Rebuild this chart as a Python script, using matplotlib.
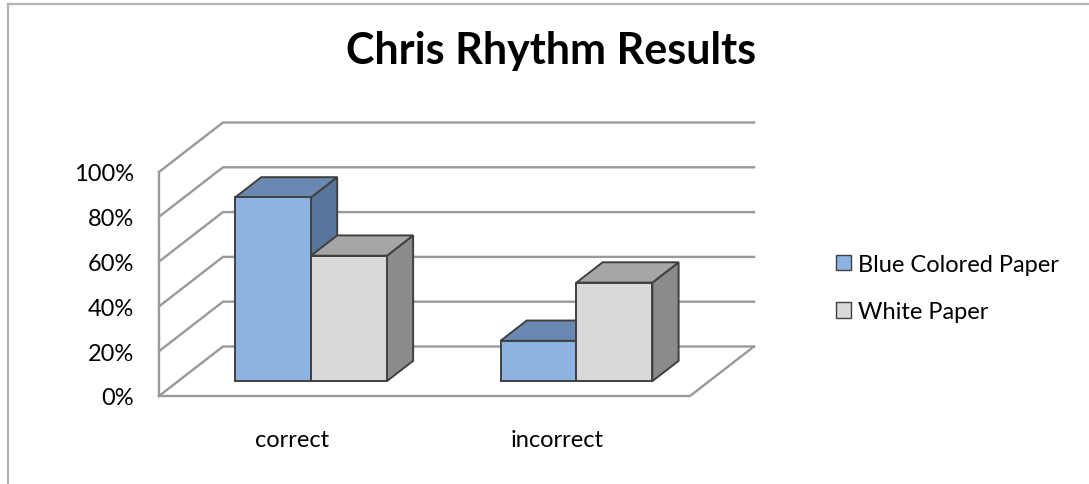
import numpy as np
import matplotlib
matplotlib.use("Agg")
from matplotlib import pyplot as plt
from matplotlib.patches import Polygon, Patch
from matplotlib.lines import Line2D
from matplotlib.ticker import PercentFormatter

plt.rcParams['font.family'] = ['Lato', 'DejaVu Sans']

###
title = "Chris Rhythm Results"
categories = ["correct", "incorrect"]
series_names = ["Blue Colored Paper", "White Paper"]
blue_vals = [0.82, 0.18]
white_vals = [0.56, 0.44]
yticks = [0, 0.2, 0.4, 0.6, 0.8, 1.0]

# face colours: front, top, side
face_cols = {
    "Blue Colored Paper": ("#8db3e2", "#6a88b1", "#58769c"),
    "White Paper": ("#d9d9d9", "#a6a6a6", "#8b8b8b"),
}
edge_col = "#404040"
grid_col = "#999999"

# oblique depth offset (data units for a full unit of depth)
DX, DY = 0.241, 0.221
BAR_D0, BAR_D1 = 0.30, 0.71
BAR_W = 0.286

def proj(x, y, d):
    return (x + d * DX, y + d * DY)

def draw_bar(ax, x0, h, cols, z):
    x1 = x0 + BAR_W
    front = [proj(x0, 0, BAR_D0), proj(x1, 0, BAR_D0), proj(x1, h, BAR_D0), proj(x0, h, BAR_D0)]
    top = [proj(x0, h, BAR_D0), proj(x1, h, BAR_D0), proj(x1, h, BAR_D1), proj(x0, h, BAR_D1)]
    side = [proj(x1, 0, BAR_D0), proj(x1, 0, BAR_D1), proj(x1, h, BAR_D1), proj(x1, h, BAR_D0)]
    for pts, c in [(side, cols[2]), (top, cols[1]), (front, cols[0])]:
        ax.add_patch(Polygon(pts, closed=True, facecolor=c, edgecolor=edge_col,
                             lw=1.4, joinstyle='miter', zorder=z, clip_on=False))

W, H = 1089, 485
fig = plt.figure(figsize=(W / 100, H / 100), dpi=100)

# outer chart border (left and top only)
fig.add_artist(Line2D([7.5 / W, 7.5 / W], [0, 1 - 4.5 / H], color="#b4b4b4", lw=1.6))
fig.add_artist(Line2D([7.5 / W, 1], [1 - 4.5 / H, 1 - 4.5 / H], color="#b4b4b4", lw=1.6))

ax = fig.add_axes([159 / W, (H - 397) / H, 531 / W, 224 / H])
ax.set_xlim(0, len(categories))
ax.set_ylim(0, 1)
for s in ax.spines.values():
    s.set_visible(False)

# walls and floor
ncat = len(categories)
for v in yticks:
    a, b, c = proj(0, v, 0), proj(0, v, 1), proj(ncat, v, 1)
    ax.plot([a[0], b[0], c[0]], [a[1], b[1], c[1]], color=grid_col, lw=1.7,
            clip_on=False, zorder=1, solid_joinstyle='miter')
p0, p1, p2 = proj(0, 0, 0), proj(ncat, 0, 0), proj(ncat, 0, 1)
ax.plot([p0[0], p1[0], p2[0]], [p0[1], p1[1], p2[1]], color=grid_col, lw=1.7,
        clip_on=False, zorder=1, solid_joinstyle='miter')
ax.plot([0, 0], [0, 1], color=grid_col, lw=1.7, clip_on=False, zorder=1)

z = 3
for i in range(ncat):
    gap = (1 - 2 * BAR_W) / 2
    draw_bar(ax, i + gap, blue_vals[i], face_cols[series_names[0]], z)
    z += 1
    draw_bar(ax, i + gap + BAR_W, white_vals[i], face_cols[series_names[1]], z)
    z += 1

ax.set_yticks(yticks)
ax.yaxis.set_major_formatter(PercentFormatter(1.0, decimals=0))
ax.set_xticks([i + 0.5 for i in range(ncat)])
ax.set_xticklabels(categories)
ax.tick_params(axis='y', length=0, pad=18, labelsize=17)
ax.tick_params(axis='x', length=0, pad=23.5, labelsize=17)

fig.text(551 / W, 1 - 51 / H, title, ha='center', va='center', fontsize=31, fontweight='bold')

handles = [Patch(facecolor=face_cols[n][0], edgecolor=edge_col, lw=1.0) for n in series_names]
fig.legend(handles, series_names, loc='center left', bbox_to_anchor=(836 / W, 1 - 289 / H),
           frameon=False, fontsize=17, handlelength=0.62, handleheight=0.62,
           handletextpad=0.3, labelspacing=1.12, borderpad=0, borderaxespad=0)

fig.savefig("out.png", dpi=100)
